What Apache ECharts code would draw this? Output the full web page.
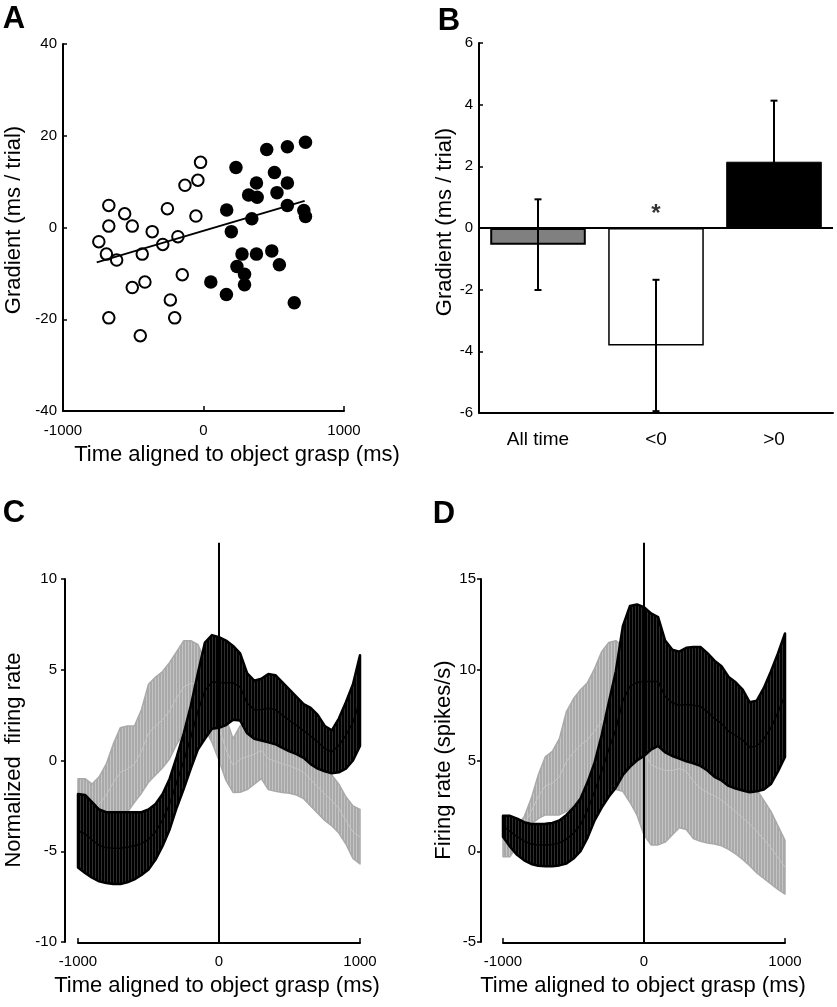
<!DOCTYPE html>
<html>
<head>
<meta charset="utf-8">
<script src="https://cdn.jsdelivr.net/npm/echarts@6/dist/echarts.min.js"></script>
<style>
html,body{margin:0;padding:0;background:#fff;}
#chart{width:837px;height:1007px;}
</style>
</head>
<body>
<div id="chart"></div>
<script>
// ---------- Panel A data ----------
const openX = [-745,-674,-674,-691,-618,-561,-507,-436,-365,-290,-257,-182,-132,-40,-21,-54,-151,-236,-205,-417,-507,-674,-450];
const openY = [-3.1,4.8,0.3,-5.8,-7.1,3.0,0.3,-5.8,-0.9,-3.7,4.1,-2.0,9.2,10.3,14.2,2.5,-10.3,-15.8,-19.7,-11.9,-13.1,-19.7,-23.6];
const fillX = [231,165,198,52,163,238,292,292,274,321,377,382,344,377,450,505,486,523,540,597,597,597,726,714,726,646];
const fillY = [13.1,3.8,-0.9,-11.9,-14.6,-8.5,-10.2,-12.5,-5.8,7.1,9.7,6.6,1.9,-5.8,17.0,12.0,-5.1,7.6,-8.1,17.6,9.7,4.8,18.6,3.7,2.4,-16.4];
const fitX = [-760, 720];
const fitY = [-7.6, 5.8];

// ---------- Panel B data ----------
const categoriesB = ['All time', '<0', '>0'];
const meansB = [-0.54, -3.81, 2.15];
const errsB = [1.47, 2.13, 1.98];
const sigLabelsB = ['', '*', ''];
const sigYB = 0.6;

// ---------- Panels C & D data (time aligned to object grasp, ms) ----------
const timeMs = [-1000,-950,-900,-850,-800,-750,-700,-650,-600,-550,-500,-450,-400,-350,-300,-250,-200,-150,-100,-50,0,50,100,150,200,250,300,350,400,450,500,550,600,650,700,750,800,850,900,950,1000];

const blackMeanC = [-3.87,-4.05,-4.38,-4.68,-4.8,-4.83,-4.83,-4.78,-4.7,-4.58,-4.35,-3.93,-3.28,-2.4,-1.2,-0.03,1.28,2.7,3.85,4.33,4.3,4.28,4.28,4.05,3.15,2.8,2.8,2.88,2.8,2.5,2.2,1.93,1.63,1.35,1.03,0.65,0.48,0.83,1.38,2.1,3.3];
const blackErrC = [2.03,2.15,2.08,1.98,1.95,1.98,1.98,1.93,1.85,1.73,1.65,1.53,1.43,1.4,1.4,1.53,1.73,2.1,2.65,2.58,2.5,2.33,2.03,1.85,1.65,1.6,1.7,1.88,1.9,1.8,1.7,1.58,1.48,1.55,1.48,1.25,1.18,1.48,1.83,2.1,2.5];
const grayMeanC = [-2.9,-2.75,-2.75,-2.4,-1.9,-1.23,-0.65,-0.48,-0.2,0.5,1.5,1.9,2.25,2.75,3.45,4.05,4.25,4.2,3.65,2.75,1.75,0.6,-0.28,0.08,0.2,0.35,0.55,0.1,-0.05,-0.18,-0.3,-0.45,-0.65,-1.05,-1.45,-1.85,-2.2,-2.65,-3.3,-3.95,-4.2];
const grayErrC = [1.9,1.75,1.45,1.5,1.7,2.13,2.45,2.38,2.1,2.3,2.7,2.7,2.65,2.65,2.55,2.55,2.35,2.2,1.85,1.75,1.75,1.7,1.48,1.83,1.8,1.65,1.55,1.7,1.65,1.58,1.5,1.45,1.45,1.45,1.45,1.45,1.4,1.35,1.3,1.45,1.5];

const blackMeanD = [1.38,1.1,0.8,0.55,0.4,0.35,0.34,0.37,0.46,0.66,1.0,1.45,2.28,3.3,4.4,5.6,6.7,8.3,9.08,9.3,9.35,9.35,9.35,8.53,8.18,8.05,8.08,8.05,7.98,7.68,7.3,7.05,6.6,6.38,6.13,5.73,5.8,6.2,6.8,7.65,8.6];
const blackErrD = [0.58,0.85,1.0,1.05,1.1,1.15,1.17,1.19,1.24,1.34,1.4,1.45,1.53,1.6,2.0,2.6,3.2,4.1,4.43,4.3,4.1,3.75,3.55,3.08,2.93,2.95,3.13,3.2,3.28,3.23,3.2,3.15,3.0,2.93,2.78,2.48,2.5,2.8,3.1,3.25,3.4];
const grayMeanD = [0.5,0.5,0.85,1.45,2.2,3.0,3.6,3.75,4.1,4.95,5.45,5.85,6.15,6.63,7.2,7.5,7.5,7.3,6.75,6.15,5.45,4.78,4.58,4.45,4.45,4.55,4.4,3.85,3.48,3.23,3.05,2.8,2.5,2.18,1.83,1.5,1.1,0.65,0.2,-0.35,-0.88];
const grayErrD = [0.8,0.8,0.55,0.45,0.7,1.2,1.6,1.75,2.1,2.75,2.95,3.05,3.15,3.43,3.8,4.0,4.1,4.0,4.05,4.15,4.55,4.43,4.23,3.95,3.55,3.25,3.2,3.15,2.93,2.78,2.65,2.5,2.4,2.33,2.28,2.3,2.3,2.15,2.0,1.75,1.48];

const zeroLineC = [[0, -10], [0, 12]];
const zeroLineD = [[0, -5], [0, 17]];

// ---------- styles ----------
const FONT = '"Liberation Sans", Arial, sans-serif';
const barColors = ['#808080', '#ffffff', '#000000'];
const barBorders = [2, 1.5, 1];

function stripes(base, line) {
  const c = document.createElement('canvas');
  c.width = 3; c.height = 2;
  const g = c.getContext('2d');
  g.fillStyle = base; g.fillRect(0, 0, 3, 2);
  g.fillStyle = line; g.fillRect(2, 0, 1, 2);
  return { image: c, repeat: 'repeat' };
}
const grayFill = stripes('#a9a9a9', '#c4c4c4');
const blackFill = stripes('#000000', '#2e2e2e');

const axisLine = { show: true, onZero: false, lineStyle: { color: '#000', width: 2 } };
const plainNum = (v) => String(v);
const labelStyle = (m) => ({ color: '#000', fontSize: 15, fontFamily: FONT, margin: m, formatter: plainNum });

function bandSeries(xi, mean, err, fill, stroke, strokeW, meanColor, meanW) {
  return {
    type: 'custom', xAxisIndex: xi, yAxisIndex: xi,
    data: [[0, 0]], silent: true, z: 2,
    renderItem: function (params, api) {
      const up = [], lo = [], mid = [];
      for (let i = 0; i < timeMs.length; i++) {
        up.push(api.coord([timeMs[i], mean[i] + err[i]]));
        lo.push(api.coord([timeMs[i], mean[i] - err[i]]));
        mid.push(api.coord([timeMs[i], mean[i]]));
      }
      const poly = up.concat(lo.slice().reverse());
      return {
        type: 'group',
        children: [
          { type: 'polygon', shape: { points: poly }, style: { fill: fill, stroke: stroke, lineWidth: strokeW, lineJoin: 'round' } },
          { type: 'polyline', shape: { points: mid }, style: { stroke: meanColor, lineWidth: meanW, fill: null } }
        ]
      };
    }
  };
}

function gText(x, y, text, font, rot) {
  return {
    type: 'text', x: x, y: y, rotation: rot || 0, silent: true,
    style: { text: text, font: font, fill: '#000', align: 'center', verticalAlign: 'middle', textAlign: 'center', textVerticalAlign: 'middle' }
  };
}

const chart = echarts.init(document.getElementById('chart'), null, { renderer: 'canvas' });

const xTickIn = { show: true, inside: true, length: 5, lineStyle: { color: '#000', width: 1.5 } };

const option = {
  animation: false,
  backgroundColor: '#fff',
  grid: [
    { left: 63, top: 44, width: 281, height: 367 },
    { left: 479, top: 43, width: 354, height: 370 },
    { left: 78, top: 579, width: 282, height: 363 },
    { left: 503, top: 579, width: 282, height: 363 }
  ],
  xAxis: [
    { gridIndex: 0, type: 'value', min: -1000, max: 1000, interval: 1000,
      axisLine: axisLine, axisTick: xTickIn, axisLabel: labelStyle(12), splitLine: { show: false } },
    { gridIndex: 1, type: 'category', data: categoriesB,
      axisLine: axisLine, axisTick: { show: false },
      axisLabel: { color: '#000', fontSize: 19, fontFamily: FONT, margin: 17 }, splitLine: { show: false } },
    { gridIndex: 2, type: 'value', min: -1000, max: 1000, interval: 1000, offset: 1,
      axisLine: axisLine, axisTick: xTickIn, axisLabel: labelStyle(11), splitLine: { show: false } },
    { gridIndex: 3, type: 'value', min: -1000, max: 1000, interval: 1000, offset: 1,
      axisLine: axisLine, axisTick: xTickIn, axisLabel: labelStyle(11), splitLine: { show: false } }
  ],
  yAxis: [
    { gridIndex: 0, type: 'value', min: -40, max: 40, interval: 20,
      axisLine: axisLine, axisTick: { show: true, inside: true, length: 4, lineStyle: { color: '#000', width: 1.5 } },
      axisLabel: labelStyle(6), splitLine: { show: false } },
    { gridIndex: 1, type: 'value', min: -6, max: 6, interval: 2,
      axisLine: axisLine, axisTick: { show: true, inside: true, length: 4, lineStyle: { color: '#000', width: 1.5 } },
      axisLabel: labelStyle(6), splitLine: { show: false } },
    { gridIndex: 2, type: 'value', min: -10, max: 10, interval: 5, offset: 13,
      axisLine: axisLine, axisTick: { show: true, inside: false, length: 4, lineStyle: { color: '#000', width: 1.5 } },
      axisLabel: labelStyle(8), splitLine: { show: false } },
    { gridIndex: 3, type: 'value', min: -5, max: 15, interval: 5, offset: 22,
      axisLine: axisLine, axisTick: { show: true, inside: false, length: 4, lineStyle: { color: '#000', width: 1.5 } },
      axisLabel: labelStyle(5), splitLine: { show: false } }
  ],
  series: [
    // Panel A
    { type: 'scatter', xAxisIndex: 0, yAxisIndex: 0, symbol: 'circle', symbolSize: 11.5,
      itemStyle: { color: '#fff', borderColor: '#000', borderWidth: 2, opacity: 1 },
      data: openX.map((x, i) => [x, openY[i]]), z: 3 },
    { type: 'scatter', xAxisIndex: 0, yAxisIndex: 0, symbol: 'circle', symbolSize: 13.5,
      itemStyle: { color: '#000', opacity: 1 },
      data: fillX.map((x, i) => [x, fillY[i]]), z: 3 },
    { type: 'line', xAxisIndex: 0, yAxisIndex: 0, showSymbol: false, symbol: 'none',
      lineStyle: { color: '#000', width: 2 }, data: fitX.map((x, i) => [x, fitY[i]]), z: 4 },
    // Panel B
    { type: 'bar', xAxisIndex: 1, yAxisIndex: 1, barWidth: '81%',
      data: meansB.map((v, i) => ({ value: v, itemStyle: { color: barColors[i], borderColor: '#000', borderWidth: barBorders[i] } })),
      markLine: { silent: true, symbol: 'none', label: { show: false },
        lineStyle: { color: '#000', width: 2, type: 'solid' }, data: [{ yAxis: 0 }] }, z: 2 },
    { type: 'custom', xAxisIndex: 1, yAxisIndex: 1, z: 5, silent: true,
      data: meansB.map((m, i) => [i, m - errsB[i], m + errsB[i]]),
      renderItem: function (params, api) {
        const lo = api.coord([api.value(0), api.value(1)]);
        const hi = api.coord([api.value(0), api.value(2)]);
        const hw = 3.5;
        const st = { stroke: '#000', lineWidth: 2 };
        return { type: 'group', children: [
          { type: 'line', shape: { x1: lo[0], y1: lo[1], x2: hi[0], y2: hi[1] }, style: st },
          { type: 'line', shape: { x1: lo[0] - hw, y1: lo[1], x2: lo[0] + hw, y2: lo[1] }, style: st },
          { type: 'line', shape: { x1: hi[0] - hw, y1: hi[1], x2: hi[0] + hw, y2: hi[1] }, style: st }
        ] };
      } },
    { type: 'scatter', xAxisIndex: 1, yAxisIndex: 1, symbolSize: 1, itemStyle: { color: 'rgba(0,0,0,0)' }, silent: true,
      data: sigLabelsB.map((s, i) => ({ value: [i, sigYB], label: { show: s !== '', formatter: s } })),
      label: { position: 'inside', color: '#000', fontSize: 24, fontWeight: 'bold', fontFamily: FONT, offset: [0, 5] }, z: 6 },
    // Panel C
    bandSeries(2, grayMeanC, grayErrC, grayFill, '#a9a9a9', 1.5, '#c4c4c4', 1),
    bandSeries(2, blackMeanC, blackErrC, blackFill, '#000', 2.5, '#000', 1.5),
    { type: 'line', xAxisIndex: 2, yAxisIndex: 2, symbol: 'none', clip: false, z: 5,
      lineStyle: { color: '#000', width: 2 }, data: zeroLineC },
    // Panel D
    bandSeries(3, grayMeanD, grayErrD, grayFill, '#a9a9a9', 1.5, '#c4c4c4', 1),
    bandSeries(3, blackMeanD, blackErrD, blackFill, '#000', 2.5, '#000', 1.5),
    { type: 'line', xAxisIndex: 3, yAxisIndex: 3, symbol: 'none', clip: false, z: 5,
      lineStyle: { color: '#000', width: 2 }, data: zeroLineD }
  ],
  graphic: [
    gText(14, 19, 'A', 'bold 31px ' + FONT),
    gText(449, 21, 'B', 'bold 31px ' + FONT),
    gText(14, 513, 'C', 'bold 31px ' + FONT),
    gText(444, 514, 'D', 'bold 31px ' + FONT),
    gText(14, 220, 'Gradient (ms / trial)', '22px ' + FONT, Math.PI / 2),
    gText(445, 222, 'Gradient (ms / trial)', '22px ' + FONT, Math.PI / 2),
    gText(14, 760, 'Normalized  firing rate', '22px ' + FONT, Math.PI / 2),
    gText(444, 760, 'Firing rate (spikes/s)', '22px ' + FONT, Math.PI / 2),
    gText(237, 455, 'Time aligned to object grasp (ms)', '22px ' + FONT),
    gText(217, 986, 'Time aligned to object grasp (ms)', '22px ' + FONT),
    gText(643, 986, 'Time aligned to object grasp (ms)', '22px ' + FONT)
  ]
};
chart.setOption(option);
</script>
</body>
</html>
